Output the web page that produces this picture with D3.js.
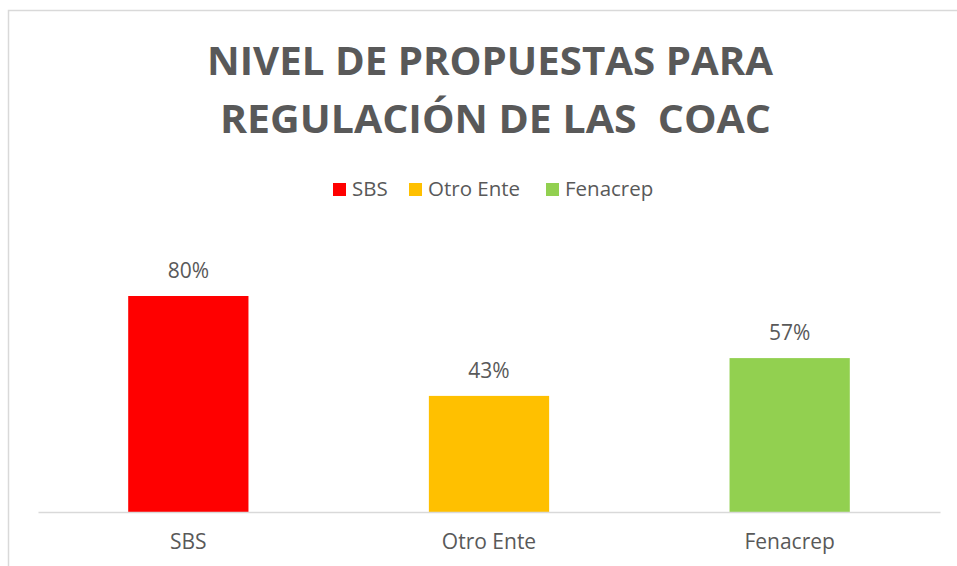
<!DOCTYPE html>
<html>
<head>
<meta charset="utf-8">
<script src="https://cdn.jsdelivr.net/npm/d3@7"></script>
<style>
  body { margin: 0; background: #fff; }
  svg text { font-family: "Open Sans", sans-serif; fill: #595959; white-space: pre; }
</style>
</head>
<body>
<div id="chart"></div>
<script>
const titleLines = ["NIVEL DE PROPUESTAS PARA", "REGULACIÓN DE LAS  COAC"];
const categories = ["SBS", "Otro Ente", "Fenacrep"];
const values = [0.80, 0.43, 0.57];
const colors = ["#FF0000", "#FFC000", "#92D050"];

const width = 957, height = 566;

const svg = d3.select("#chart")
    .append("svg")
    .attr("width", width)
    .attr("height", height);

// chart frame (runs off the right and bottom of the picture)
svg.append("rect")
    .attr("x", 8.5)
    .attr("y", 10.5)
    .attr("width", width + 20)
    .attr("height", height + 20)
    .attr("fill", "none")
    .attr("stroke", "#D9D9D9")
    .attr("stroke-width", 1.5);

// title
const titleX = [490, 495.5];
const titleLen = [566, 551];
svg.append("g")
    .selectAll("text")
    .data(titleLines)
    .join("text")
    .attr("x", (d, i) => titleX[i])
    .attr("y", (d, i) => 75 + i * 58)
    .attr("text-anchor", "middle")
    .attr("textLength", (d, i) => titleLen[i])
    .attr("lengthAdjust", "spacingAndGlyphs")
    .style("font-weight", "bold")
    .style("font-size", "40px")
    .text(d => d);

// legend
const legendX = [333, 409, 546];
const legend = svg.append("g")
    .selectAll("g")
    .data(categories)
    .join("g")
    .attr("transform", (d, i) => `translate(${legendX[i]},183)`);

legend.append("rect")
    .attr("width", 13)
    .attr("height", 13)
    .attr("fill", (d, i) => colors[i]);

legend.append("text")
    .attr("x", 19)
    .attr("y", 13)
    .style("font-size", "20.5px")
    .text(d => d);

// scales
const x = d3.scaleBand()
    .domain(categories)
    .range([38, 940])
    .paddingInner(0.6)
    .paddingOuter(0.3);

const y = d3.scaleLinear()
    .domain([0, 1])
    .range([512, 242]);

// bars
svg.append("g")
    .selectAll("rect")
    .data(values)
    .join("rect")
    .attr("x", (d, i) => x(categories[i]))
    .attr("y", d => y(d))
    .attr("width", x.bandwidth())
    .attr("height", d => y(0) - y(d))
    .attr("fill", (d, i) => colors[i]);

// data labels
svg.append("g")
    .selectAll("text")
    .data(values)
    .join("text")
    .attr("x", (d, i) => x(categories[i]) + x.bandwidth() / 2)
    .attr("y", d => y(d) - 18)
    .attr("text-anchor", "middle")
    .style("font-size", "21px")
    .text(d => d3.format(".0%")(d));

// x axis
const xAxis = svg.append("g")
    .attr("transform", `translate(0,${y(0)})`)
    .call(d3.axisBottom(x).tickSize(0).tickSizeOuter(0).tickPadding(22));

xAxis.select(".domain")
    .attr("stroke", "#D9D9D9")
    .attr("stroke-width", 1.5);

xAxis.selectAll("text")
    .style("font-size", "21px")
    .style("font-family", "'Open Sans', sans-serif")
    .attr("fill", "#595959");
</script>
</body>
</html>
